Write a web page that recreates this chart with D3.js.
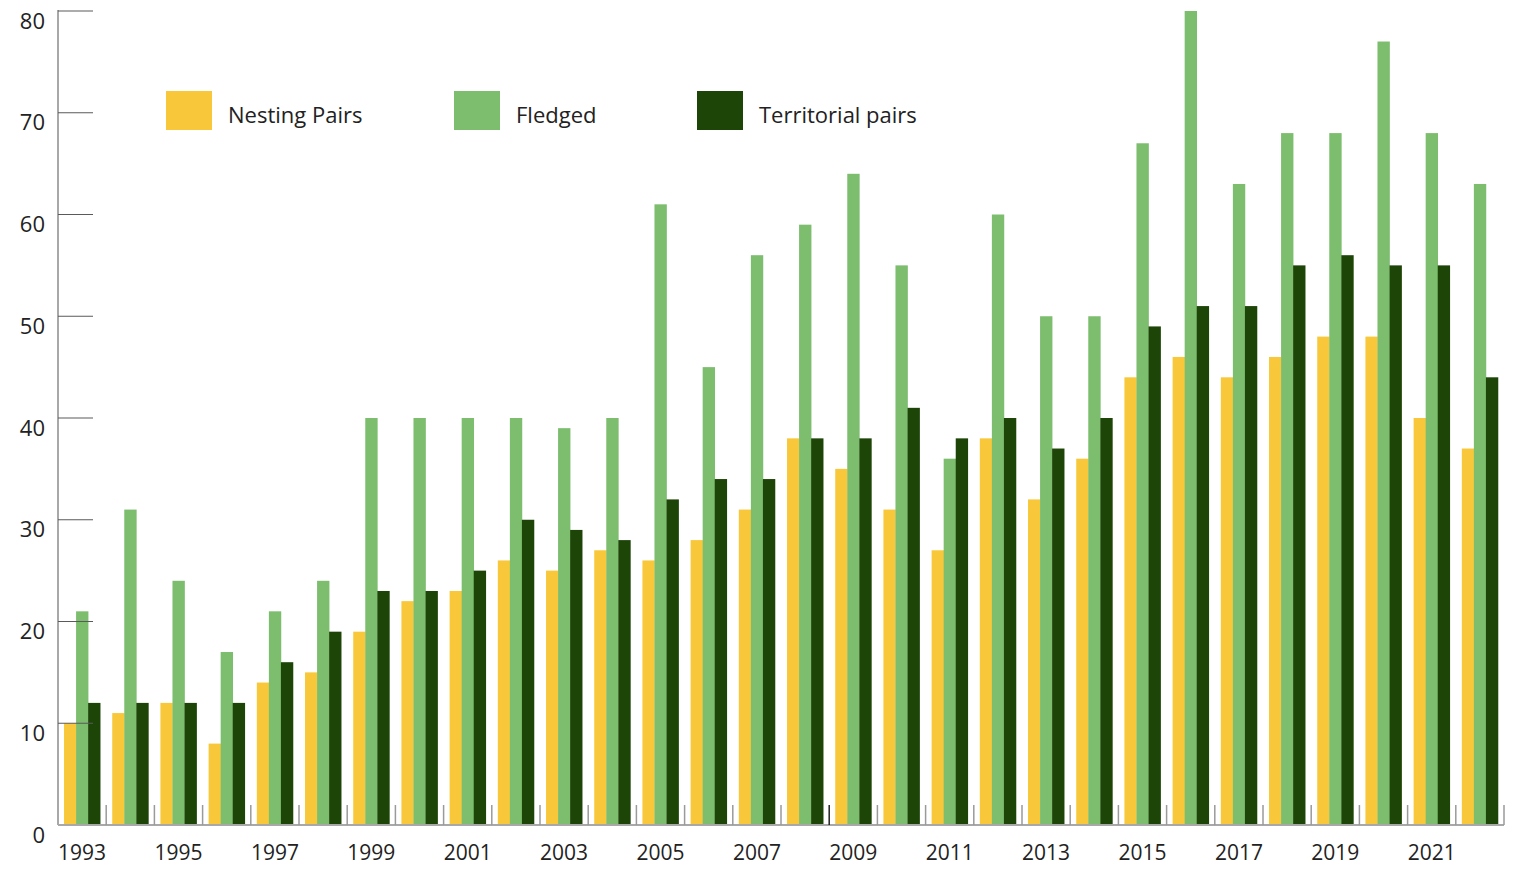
<!DOCTYPE html>
<html>
<head>
<meta charset="utf-8">
<script src="https://cdn.jsdelivr.net/npm/d3@7"></script>
<style>
  body { margin: 0; background: #fff; }
  svg text { font-family: "Open Sans", "Noto Sans", sans-serif; fill: #222; }
</style>
</head>
<body>
<div id="chart"></div>
<script>
// Data
const years = d3.range(1993, 2023);
const nestingPairs = [10, 11, 12, 8, 14, 15, 19, 22, 23, 26, 25, 27, 26, 28, 31, 38, 35, 31, 27, 38, 32, 36, 44, 46, 44, 46, 48, 48, 40, 37];
const fledged = [21, 31, 24, 17, 21, 24, 40, 40, 40, 40, 39, 40, 61, 45, 56, 59, 64, 55, 36, 60, 50, 50, 67, 80, 63, 68, 68, 77, 68, 63];
const territorialPairs = [12, 12, 12, 12, 16, 19, 23, 23, 25, 30, 29, 28, 32, 34, 34, 38, 38, 41, 38, 40, 37, 40, 49, 51, 51, 55, 56, 55, 55, 44];
const seriesNames = ["Nesting Pairs", "Fledged", "Territorial pairs"];
const seriesColors = ["#f8c83a", "#7cbd6e", "#1e4508"];
const yTicks = [0, 10, 20, 30, 40, 50, 60, 70, 80];

var width = 1516;
var height = 872;
// plot edges (avoid "top", it is window.top)
var plotLeft = 58, plotRight = 1504, plotTop = 11, plotBottom = 825;

const svg = d3
  .select("#chart")
  .append("svg")
  .attr("width", width)
  .attr("height", height);

const x0 = d3
  .scaleBand()
  .domain(years)
  .range([plotLeft, plotRight])
  .paddingInner(0.25)
  .paddingOuter(0.125);

const x1 = d3
  .scaleBand()
  .domain(seriesNames)
  .range([0, x0.bandwidth()]);

const y = d3.scaleLinear().domain([0, 80]).range([plotBottom, plotTop]);

const color = d3.scaleOrdinal().domain(seriesNames).range(seriesColors);

/* Bars */
const rows = years.map((yr, i) => ({
  year: yr,
  values: [nestingPairs[i], fledged[i], territorialPairs[i]],
}));

const groups = svg
  .append("g")
  .attr("data-name", "bars")
  .selectAll("g")
  .data(rows)
  .join("g")
  .attr("transform", (d) => "translate(" + x0(d.year) + ",0)");

groups
  .selectAll("rect")
  .data((d) => d.values.map((v, j) => ({ key: seriesNames[j], value: v })))
  .join("rect")
  .attr("x", (d) => x1(d.key))
  .attr("width", x1.bandwidth() + 0.3)
  .attr("y", (d) => y(d.value))
  .attr("height", (d) => y(0) - y(d.value))
  .attr("fill", (d) => color(d.key));

/* Y axis */
const yAxis = svg.append("g").attr("data-name", "y-axis");
yAxis
  .append("line")
  .attr("x1", plotLeft)
  .attr("x2", plotLeft)
  .attr("y1", y(80) - 1)
  .attr("y2", plotBottom)
  .attr("stroke", "#a8a8a8")
  .attr("stroke-width", 2);

yAxis
  .selectAll("line.tick")
  .data(yTicks.filter((t) => t > 0))
  .join("line")
  .attr("class", "tick")
  .attr("x1", plotLeft)
  .attr("x2", plotLeft + 35)
  .attr("y1", (d) => y(d))
  .attr("y2", (d) => y(d))
  .attr("stroke", "#5a5a5a")
  .attr("stroke-width", 1.2);

yAxis
  .selectAll("text")
  .data(yTicks)
  .join("text")
  .attr("x", 45)
  .attr("y", (d) => y(d) + 10)
  .attr("dy", "0.35em")
  .attr("text-anchor", "end")
  .attr("font-size", 22)
  .text((d) => d);

/* X axis */
const xAxis = svg.append("g").attr("data-name", "x-axis");
xAxis
  .append("line")
  .attr("x1", plotLeft)
  .attr("x2", plotRight)
  .attr("y1", plotBottom)
  .attr("y2", plotBottom)
  .attr("stroke", "#a8a8a8")
  .attr("stroke-width", 2);

// small separators between year groups
const sepX = (d) => x0(d) - x0.step() * 0.125 + x0.step();
xAxis
  .selectAll("line.sep")
  .data(years)
  .join("line")
  .attr("class", "sep")
  .attr("x1", sepX)
  .attr("x2", sepX)
  .attr("y1", plotBottom - 20)
  .attr("y2", plotBottom)
  .attr("stroke", (d) => (d === 2008 ? "#222" : "#9a9a9a"))
  .attr("stroke-width", 1.5);

xAxis
  .selectAll("text")
  .data(years.filter((d, i) => i % 2 === 0))
  .join("text")
  .attr("x", (d) => x0(d) + x0.bandwidth() / 2)
  .attr("y", 853)
  .attr("dy", "0.35em")
  .attr("text-anchor", "middle")
  .attr("font-size", 21)
  .text((d) => d);

/* Legend */
const legendX = [166, 454, 697];
const legend = svg
  .append("g")
  .attr("data-name", "legend")
  .selectAll("g")
  .data(seriesNames)
  .join("g")
  .attr("transform", (d, i) => "translate(" + legendX[i] + ",91)");

legend
  .append("rect")
  .attr("width", 46)
  .attr("height", 39)
  .attr("fill", (d) => color(d));

legend
  .append("text")
  .attr("x", 62)
  .attr("y", 24)
  .attr("dy", "0.35em")
  .attr("font-size", 22)
  .text((d) => d);
</script>
</body>
</html>
